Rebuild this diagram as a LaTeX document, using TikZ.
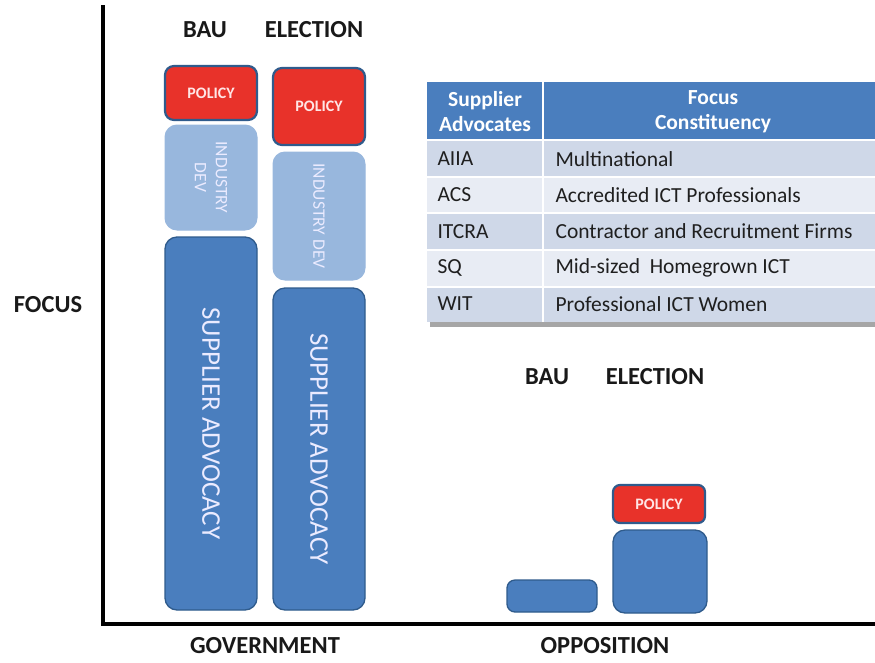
\documentclass[tikz,border=0pt]{standalone}
\usepackage{fontspec}
\setmainfont{Carlito}
\begin{document}
\definecolor{barblue}{HTML}{4A7EBE}
\definecolor{barline}{HTML}{2F5B8C}
\definecolor{lightblue}{HTML}{98B7DD}
\definecolor{policyred}{HTML}{E8322A}
\definecolor{hdrblue}{HTML}{4A7EBE}
\definecolor{banddark}{HTML}{CFD8E8}
\definecolor{bandlight}{HTML}{E8ECF4}
\begin{tikzpicture}[x=1pt,y=-1pt,
  bar/.style={draw=barline,line width=1.3pt,fill=barblue,rounded corners=12pt,inner sep=0pt},
  devbox/.style={draw=lightblue,line width=1pt,fill=lightblue,rounded corners=12pt,inner sep=0pt},
  policybox/.style={draw=barline,line width=2.2pt,fill=policyred,rounded corners=9pt,inner sep=0pt},
  bartext/.style={text=white!92!blue,font=\fontsize{27}{30}\selectfont,rotate=-90},
  devtext/.style={text=white!92!blue,font=\fontsize{17.5}{21}\selectfont,rotate=-90,align=center},
  poltext/.style={text=white!90!red,font=\bfseries\fontsize{16}{18}\selectfont},
  axislabel/.style={font=\bfseries\fontsize{24.5}{28}\selectfont,text=black!90},
  axis/.style={line width=3.4pt,black},
  hdrtext/.style={text=white,font=\bfseries\fontsize{21.5}{25}\selectfont,align=center},
  celltext/.style={text=black!88,font=\fontsize{21.5}{24}\selectfont,anchor=west}
]
\useasboundingbox (0,0) rectangle (875,662);
\begin{scope}
\clip (0,0) rectangle (875,662);

% axes
\coordinate (origin) at (103,624);
\coordinate (ytop) at (103,5);
\coordinate (xend) at (880,624);
\draw[axis] (ytop) -- (origin) -- (xend);

% axis labels
\node[axislabel] (focus) at (48,305) {FOCUS};
\node[axislabel] (gov) at (265,646) {GOVERNMENT};
\node[axislabel] (opp) at (605,646) {OPPOSITION};
\node[axislabel] (gbau) at (205,30) {BAU};
\node[axislabel] (gel) at (314,30) {ELECTION};
\node[axislabel] (obau) at (547,377) {BAU};
\node[axislabel] (oel) at (655,377) {ELECTION};

% government, business as usual
\node[policybox,minimum width=92pt,minimum height=54pt] (gbpol) at (211,93) {};
\node[poltext] at (gbpol.center) {POLICY};
\node[devbox,minimum width=92pt,minimum height=105pt] (gbdev) at (211,177.5) {};
\node[devtext] at (gbdev.center) {INDUSTRY\\DEV};
\node[bar,minimum width=92pt,minimum height=373pt] (gbsup) at (211,423.5) {};
\node[bartext] at (gbsup.center) {SUPPLIER ADVOCACY};

% government, election
\node[policybox,minimum width=92pt,minimum height=77pt] (gepol) at (319,106.5) {};
\node[poltext] at (gepol.center) {POLICY};
\node[devbox,minimum width=92pt,minimum height=128pt] (gedev) at (319,216) {};
\node[devtext] at (gedev.center) {INDUSTRY DEV};
\node[bar,minimum width=92pt,minimum height=322pt] (gesup) at (319,449) {};
\node[bartext] at (gesup.center) {SUPPLIER ADVOCACY};

% opposition
\node[bar,rounded corners=8pt,minimum width=90pt,minimum height=32pt] (obbar) at (552,596) {};
\node[bar,minimum width=94pt,minimum height=83pt] (oebar) at (660,571.5) {};
\node[policybox,rounded corners=7pt,minimum width=92pt,minimum height=38pt] (oepol) at (659,504) {};
\node[poltext] at (oepol.center) {POLICY};

% table of supplier advocates
\fill[black!35] (430,322) rectangle (880,327);
\fill[hdrblue] (427,82) rectangle (884,139);
\fill[banddark] (427,141) rectangle (884,176);
\fill[bandlight] (427,178) rectangle (884,212);
\fill[banddark] (427,214) rectangle (884,249);
\fill[bandlight] (427,251) rectangle (884,286);
\fill[banddark] (427,288) rectangle (884,322);
\draw[white,line width=2pt] (543,82) -- (543,322);

\node[hdrtext] (h1) at (485,112) {Supplier\\Advocates};
\node[hdrtext] (h2) at (713,112) {Focus\\Constituency};
\node[celltext] (a1) at (434,159) {AIIA};
\node[celltext] (b1) at (552,159) {Multinational};
\node[celltext] (a2) at (434,195) {ACS};
\node[celltext] (b2) at (552,195) {Accredited ICT Professionals};
\node[celltext] (a3) at (434,231.5) {ITCRA};
\node[celltext] (b3) at (552,231.5) {Contractor and Recruitment Firms};
\node[celltext] (a4) at (434,268) {SQ};
\node[celltext] (b4) at (552,268) {Mid-sized\ \ Homegrown ICT};
\node[celltext] (a5) at (434,304) {WIT};
\node[celltext] (b5) at (552,304) {Professional ICT Women};
\end{scope}
\end{tikzpicture}
\end{document}
